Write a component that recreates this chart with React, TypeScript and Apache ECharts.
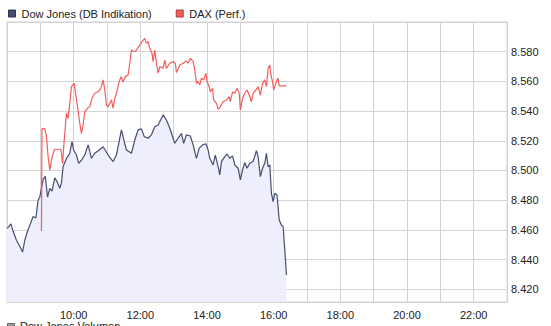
import React, { useEffect, useRef } from 'react';
import * as echarts from 'echarts';

// ---- data ----
const dowName = 'Dow Jones (DB Indikation)';
const daxName = 'DAX (Perf.)';
const volumeName = 'Dow Jones Volumen';

const dowTimes = ["08:00","08:03","08:07","08:11","08:17","08:23","08:28","08:32","08:36","08:41","08:47","08:52","08:56","08:59","09:02","09:05","09:09","09:13","09:17","09:21","09:26","09:30","09:35","09:38","09:41","09:47","09:53","09:57","10:00","10:05","10:09","10:14","10:20","10:26","10:32","10:38","10:46","10:53","11:02","11:11","11:17","11:20","11:26","11:31","11:35","11:44","11:50","11:56","12:02","12:07","12:14","12:20","12:26","12:32","12:41","12:47","12:53","12:59","13:02","13:08","13:14","13:18","13:23","13:30","13:35","13:41","13:46","13:52","13:58","14:02","14:05","14:11","14:15","14:20","14:23","14:26","14:32","14:36","14:41","14:46","14:50","14:56","15:00","15:04","15:08","15:12","15:17","15:23","15:29","15:32","15:36","15:40","15:44","15:47","15:50","15:53","15:56","15:59","16:02","16:06","16:10","16:14","16:17","16:20","16:22","16:23"];
const dowValues = [8.461,8.462,8.464,8.459,8.453,8.449,8.445,8.453,8.458,8.463,
  8.469,8.468,8.480,8.482,8.488,8.494,8.496,8.482,8.488,8.486,
  8.495,8.4925,8.488,8.4916,8.5026,8.508,8.5116,8.5194,8.5138,8.5104,
  8.5048,8.507,8.5104,8.5172,8.5082,8.5116,8.5138,8.516,8.5104,8.506,
  8.5104,8.516,8.5273,8.5194,8.5138,8.5116,8.5205,8.5273,8.528,8.5228,
  8.5217,8.524,8.5295,8.5306,8.5374,8.534,8.5284,8.5217,8.5183,8.5217,
  8.525,8.5183,8.524,8.5232,8.5172,8.5082,8.515,8.5172,8.518,8.5138,
  8.5082,8.5037,8.5104,8.5026,8.497,8.506,8.5093,8.511,8.5082,8.5098,
  8.5037,8.5015,8.4936,8.5003,8.5053,8.5015,8.5048,8.506,8.5133,8.5093,
  8.4958,8.5015,8.5048,8.5116,8.5026,8.5037,8.4846,8.479,8.4846,8.4835,
  8.4667,8.4633,8.4622,8.4465,8.4352,8.4296];

const daxTimes = ["09:02","09:03","09:08","09:11","09:14","09:17","09:20","09:23","09:26","09:37","09:40","09:43","09:47","09:50","09:53","09:56","10:01","10:03","10:07","10:11","10:14","10:17","10:20","10:25","10:29","10:33","10:38","10:44","10:49","10:53","10:56","10:59","11:02","11:08","11:11","11:14","11:17","11:21","11:25","11:29","11:33","11:38","11:41","11:44","11:50","11:53","11:59","12:03","12:08","12:11","12:14","12:17","12:21","12:23","12:26","12:29","12:32","12:35","12:41","12:44","12:47","12:53","12:59","13:03","13:05","13:11","13:17","13:23","13:26","13:30","13:35","13:38","13:41","13:44","13:47","13:50","13:54","13:58","14:00","14:04","14:06","14:10","14:12","14:17","14:20","14:24","14:29","14:35","14:40","14:42","14:46","14:50","14:54","14:58","15:00","15:04","15:08","15:12","15:16","15:20","15:23","15:28","15:32","15:36","15:40","15:44","15:47","15:50","15:53","15:55","15:58","16:00","16:04","16:06","16:08","16:10","16:23"];
const daxValues = [8.4593,8.528,8.5284,8.5228,8.5093,8.5003,8.507,8.5116,8.5143,8.5143,
  8.5048,8.5205,8.5385,8.5351,8.5452,8.5564,8.5587,8.553,8.543,8.5318,
  8.525,8.5306,8.5396,8.5419,8.543,8.5486,8.552,8.553,8.5554,8.561,
  8.5542,8.5441,8.543,8.5475,8.5419,8.5486,8.552,8.5587,8.5632,8.5598,
  8.5632,8.5643,8.5722,8.5811,8.580,8.5811,8.5845,8.5867,8.589,8.5856,
  8.5867,8.5823,8.579,8.5733,8.5811,8.5722,8.5655,8.570,8.5688,8.5744,
  8.5688,8.5722,8.5733,8.5722,8.5659,8.571,8.5722,8.5739,8.5722,8.5755,
  8.5733,8.5677,8.5587,8.5598,8.5576,8.5621,8.561,8.5655,8.5598,8.5564,
  8.553,8.5553,8.5475,8.5452,8.5412,8.543,8.5463,8.5475,8.5497,8.5463,
  8.553,8.552,8.5554,8.552,8.5407,8.5486,8.552,8.5542,8.5508,8.5463,
  8.552,8.5542,8.5564,8.5508,8.5587,8.561,8.5564,8.5688,8.571,8.5643,
  8.5598,8.5542,8.5587,8.561,8.5621,8.557,8.557];

const xLabels = ["10:00","12:00","14:00","16:00","18:00","20:00","22:00"];
const yLabels = [8.42, 8.44, 8.46, 8.48, 8.50, 8.52, 8.54, 8.56, 8.58];
const yGridLines = [8.42, 8.44, 8.46, 8.48, 8.50, 8.52, 8.54, 8.56, 8.58, 8.60];
const xStart = "08:00";
const xEnd = "23:00";
const yMin = 8.4114;
const yMax = 8.6;

const toMin = (s: string) => {
  const [h, m] = s.split(':').map(Number);
  return h * 60 + m;
};
const pairs = (t: string[], v: number[]) => {
  const n = Math.min(t.length, v.length);
  const out: [number, number][] = [];
  for (let i = 0; i < n; i++) out.push([toMin(t[i]), v[i]]);
  return out;
};

const FONT = '"Liberation Sans", Arial, sans-serif';
const DOW_COLOR = '#474d6d';
const DAX_COLOR = '#f45c5c';
const GRID_COLOR = '#d3d3d3';

export default function App() {
  const ref = useRef<HTMLDivElement>(null);
  useEffect(() => {
    if (!ref.current) return;
    const chart = echarts.init(ref.current, undefined, { renderer: 'svg' });
    const labelMins = new Set(xLabels.map(toMin));
    chart.setOption({
      animation: false,
      backgroundColor: '#ffffff',
      textStyle: { fontFamily: FONT },
      grid: {
        left: 7, right: 44, top: 22, bottom: 24,
        show: true, borderColor: GRID_COLOR, borderWidth: 1,
      },
      legend: {
        left: 8, top: 8, padding: 0, itemWidth: 7, itemHeight: 7, itemGap: 24,
        icon: 'rect',
        textStyle: { fontSize: 11, color: '#222', fontFamily: FONT, padding: [0, 0, 0, 1] },
        data: [
          { name: dowName, itemStyle: { color: DOW_COLOR, borderColor: '#2e3350', borderWidth: 1 } },
          { name: daxName, itemStyle: { color: DAX_COLOR, borderColor: '#b03a3a', borderWidth: 1 } },
        ],
      },
      xAxis: {
        type: 'value',
        min: toMin(xStart), max: toMin(xEnd), interval: 60,
        axisLine: { show: true, lineStyle: { color: GRID_COLOR } },
        axisTick: { show: false },
        splitLine: { show: true, lineStyle: { color: GRID_COLOR, width: 1 } },
        axisLabel: {
          margin: 7, fontSize: 11, color: '#222', fontFamily: FONT,
          formatter: (v: number) => {
            if (!labelMins.has(v)) return '';
            const h = Math.floor(v / 60), m = v % 60;
            return `${String(h).padStart(2, '0')}:${String(m).padStart(2, '0')}`;
          },
        },
      },
      yAxis: {
        type: 'value',
        position: 'right',
        min: yMin, max: yMax,
        axisLine: { show: true, lineStyle: { color: GRID_COLOR } },
        axisTick: { show: false, customValues: yGridLines },
        splitLine: { show: true, lineStyle: { color: GRID_COLOR, width: 1 } },
        axisLabel: {
          customValues: yLabels,
          margin: 4, fontSize: 11, color: '#222', fontFamily: FONT,
          formatter: (v: number) => v.toFixed(3),
        },
      },
      series: [
        {
          name: dowName, type: 'line', data: pairs(dowTimes, dowValues),
          symbol: 'none', z: 2,
          lineStyle: { color: DOW_COLOR, width: 1.2 },
          itemStyle: { color: DOW_COLOR },
          areaStyle: { color: '#eeeefc', opacity: 1, origin: 'start' },
        },
        {
          name: daxName, type: 'line', data: pairs(daxTimes, daxValues),
          symbol: 'none', z: 3,
          lineStyle: { color: DAX_COLOR, width: 1.2 },
          itemStyle: { color: DAX_COLOR },
        },
      ],
      graphic: [
        {
          type: 'rect', left: 7, top: 323,
          shape: { width: 7, height: 7 },
          style: { fill: '#9a9a9a', stroke: '#666666', lineWidth: 1 },
        },
        {
          type: 'text', left: 20, top: 320,
          style: { text: volumeName, fontSize: 11, fill: '#222', fontFamily: FONT },
        },
      ],
    });
    return () => chart.dispose();
  }, []);
  return (
    <div
      ref={ref}
      style={{ position: 'fixed', left: 0, top: 0, width: 551, height: 326 }}
    />
  );
}
